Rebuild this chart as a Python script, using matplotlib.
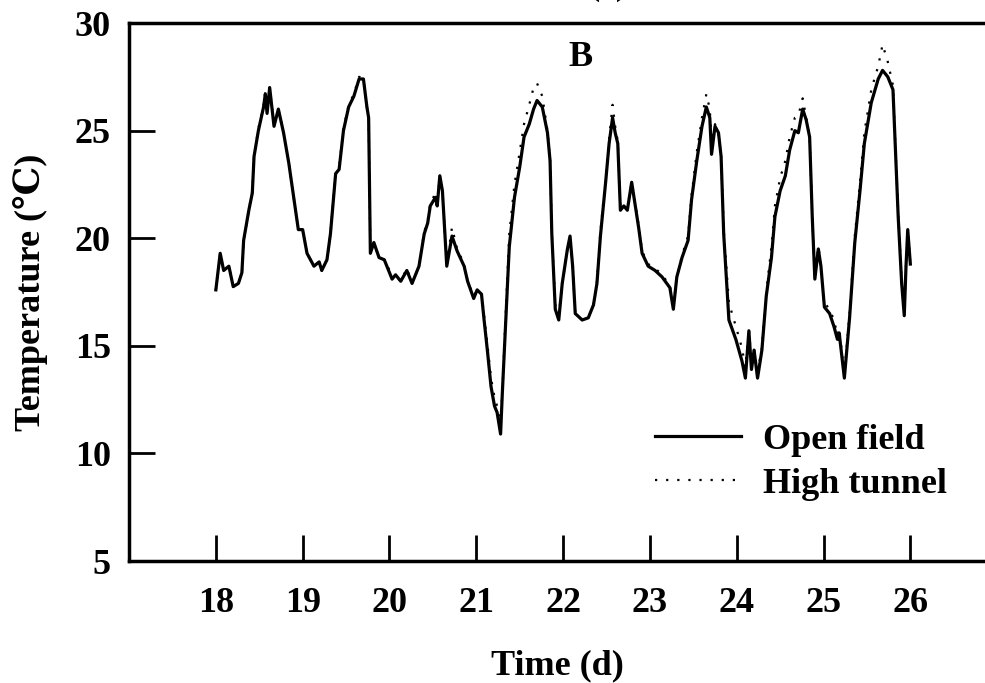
import matplotlib
matplotlib.use('Agg')
import matplotlib.pyplot as plt

plt.rcParams['font.family'] = ['Liberation Serif', 'DejaVu Serif']
plt.rcParams['font.weight'] = 'bold'

# time (d), open field and high tunnel temperature (degC)
time_d = [
    18.00, 18.05, 18.09, 18.15, 18.20, 18.26, 18.30, 18.32, 18.38, 18.42,
    18.44, 18.49, 18.55, 18.57, 18.59, 18.62, 18.67, 18.72, 18.78, 18.84,
    18.90, 18.95, 19.00, 19.05, 19.13, 19.19, 19.22, 19.28, 19.32, 19.38,
    19.42, 19.47, 19.53, 19.59, 19.65, 19.70, 19.74, 19.76, 19.78, 19.82,
    19.88, 19.94, 19.99, 20.03, 20.07, 20.13, 20.20, 20.26, 20.34, 20.40,
    20.44, 20.47, 20.53, 20.55, 20.58, 20.61, 20.66, 20.72, 20.78, 20.86,
    20.90, 20.97, 21.01, 21.06, 21.09, 21.13, 21.17, 21.21, 21.24, 21.28,
    21.30, 21.34, 21.38, 21.44, 21.50, 21.55, 21.61, 21.66, 21.70, 21.76,
    21.82, 21.85, 21.87, 21.91, 21.95, 21.99, 22.05, 22.08, 22.11, 22.14,
    22.22, 22.29, 22.35, 22.39, 22.43, 22.49, 22.53, 22.57, 22.60, 22.63,
    22.66, 22.70, 22.74, 22.79, 22.82, 22.87, 22.91, 22.98, 23.06, 23.14,
    23.23, 23.27, 23.31, 23.37, 23.44, 23.48, 23.54, 23.60, 23.65, 23.69,
    23.71, 23.75, 23.79, 23.82, 23.85, 23.91, 23.99, 24.06, 24.10, 24.14,
    24.17, 24.20, 24.24, 24.29, 24.34, 24.40, 24.44, 24.50, 24.56, 24.61,
    24.67, 24.71, 24.76, 24.80, 24.84, 24.87, 24.90, 24.94, 24.97, 25.01,
    25.07, 25.12, 25.16, 25.18, 25.24, 25.30, 25.36, 25.42, 25.47, 25.55,
    25.63, 25.68, 25.74, 25.80, 25.82, 25.86, 25.90, 25.93, 25.95, 25.97,
    26.00,
]

open_field = [
    17.6, 19.3, 18.5, 18.7, 17.75, 17.9, 18.4, 19.9, 21.3, 22.1,
    23.8, 25.0, 26.1, 26.7, 25.8, 27.0, 25.2, 26.0, 24.9, 23.5,
    21.8, 20.4, 20.4, 19.3, 18.7, 18.9, 18.5, 19.0, 20.2, 23.0,
    23.2, 25.0, 26.1, 26.6, 27.4, 27.4, 26.1, 25.6, 19.3, 19.8,
    19.1, 19.0, 18.5, 18.1, 18.3, 18.0, 18.5, 17.9, 18.7, 20.2,
    20.7, 21.5, 21.9, 21.5, 22.9, 22.2, 18.7, 20.1, 19.4, 18.7,
    18.0, 17.2, 17.6, 17.4, 16.2, 14.7, 13.1, 12.2, 11.9, 10.9,
    12.8, 16.2, 19.6, 21.9, 23.3, 24.7, 25.3, 26.0, 26.4, 26.1,
    24.9, 23.6, 20.2, 16.7, 16.2, 17.9, 19.5, 20.1, 18.7, 16.5,
    16.2, 16.3, 16.9, 17.9, 20.1, 22.6, 24.4, 25.6, 24.9, 24.4,
    21.3, 21.5, 21.3, 22.6, 21.8, 20.5, 19.3, 18.7, 18.5, 18.2,
    17.7, 16.7, 18.2, 19.1, 19.9, 21.8, 23.6, 25.2, 26.1, 25.6,
    23.9, 25.2, 24.9, 23.8, 20.2, 16.2, 15.3, 14.3, 13.5, 15.7,
    13.9, 14.8, 13.5, 14.8, 17.3, 19.1, 21.0, 22.2, 22.9, 24.1,
    25.0, 24.9, 26.0, 25.5, 24.7, 21.0, 18.1, 19.5, 18.7, 16.8,
    16.5, 15.9, 15.3, 15.6, 13.5, 16.3, 19.8, 22.2, 24.4, 26.3,
    27.4, 27.8, 27.5, 26.9, 24.9, 21.0, 17.9, 16.4, 18.7, 20.4,
    18.8,
]

high_tunnel = [
    17.6, 19.3, 18.5, 18.7, 17.8, 17.9, 18.4, 19.9, 21.3, 22.2,
    23.8, 25.1, 26.2, 26.8, 25.9, 27.0, 25.3, 26.0, 24.9, 23.5,
    21.8, 20.4, 20.4, 19.3, 18.7, 18.9, 18.5, 19.0, 20.2, 23.0,
    23.3, 25.1, 26.2, 26.7, 27.5, 27.4, 26.1, 25.6, 19.3, 19.8,
    19.1, 19.0, 18.6, 18.1, 18.3, 18.0, 18.6, 17.9, 18.7, 20.3,
    20.8, 21.6, 22.1, 21.6, 22.9, 22.2, 18.8, 20.5, 19.5, 18.8,
    18.0, 17.3, 17.6, 17.4, 16.4, 15.0, 13.5, 12.6, 12.2, 11.6,
    12.8, 16.6, 20.2, 22.5, 24.0, 25.3, 26.2, 27.0, 27.2, 26.6,
    25.0, 23.6, 20.2, 16.9, 16.4, 17.9, 19.5, 20.1, 18.7, 16.5,
    16.2, 16.3, 16.9, 18.0, 20.3, 22.8, 24.6, 26.2, 25.2, 24.5,
    21.5, 21.6, 21.4, 22.6, 21.9, 20.6, 19.4, 18.8, 18.6, 18.3,
    17.8, 16.8, 18.2, 19.2, 20.1, 22.0, 24.0, 25.6, 26.7, 26.0,
    24.5, 25.3, 24.9, 23.8, 20.4, 17.0, 15.9, 14.9, 14.0, 15.8,
    14.2, 14.8, 13.8, 14.9, 17.5, 19.6, 21.5, 22.8, 23.6, 24.7,
    25.6, 25.7, 26.5, 25.6, 24.7, 21.0, 18.3, 19.6, 18.8, 17.0,
    16.7, 16.2, 15.5, 15.8, 13.7, 16.5, 20.1, 22.6, 24.9, 26.9,
    28.0, 29.0, 28.2, 27.1, 25.0, 21.2, 18.0, 16.5, 18.7, 20.4,
    18.8,
]

x_ticks = [18, 19, 20, 21, 22, 23, 24, 25, 26]
y_ticks = [5, 10, 15, 20, 25, 30]

fig = plt.figure(figsize=(9.85, 6.83), dpi=100)
ax = fig.add_axes([0.131, 0.1786, 0.869, 0.7877])

ax.plot(time_d, open_field, color='black', lw=2.3, label='Open field')
ax.plot(time_d, high_tunnel, color='black', lw=1.6,
        linestyle=(0, (1, 4)), label='High tunnel')

ax.set_xlim(17, 26.86)
ax.set_ylim(5, 30)
ax.set_xticks(x_ticks)
ax.set_yticks(y_ticks)

for side in ['left', 'bottom', 'top']:
    ax.spines[side].set_linewidth(2.5)
ax.spines['right'].set_visible(False)

ax.tick_params(axis='both', direction='in', length=19, width=2,
               labelsize=26)
ax.tick_params(axis='x', pad=19)
ax.tick_params(axis='y', pad=13)
for lab in ax.get_xticklabels() + ax.get_yticklabels():
    lab.set_fontweight('bold')

ax.set_xlabel('Time (d)', fontsize=26, fontweight='bold')
ax.xaxis.set_label_coords(0.5, -0.165)
ax.set_ylabel('Temperature (℃)', fontsize=26, fontweight='bold')
ax.yaxis.set_label_coords(-0.095, 0.5)

ax.text(22.2, 28.4, 'B', fontsize=26, fontweight='bold',
        ha='center', va='center')

fig.text(0.617, 1.0 + 5 / 683, '(a)', fontsize=24, ha='center',
         va='baseline')

leg = ax.legend(loc='center left', bbox_to_anchor=(0.614, 0.184),
                frameon=False, fontsize=26, handlelength=2.4,
                handletextpad=0.6, labelspacing=0.3, borderpad=0,
                borderaxespad=0)
for t in leg.get_texts():
    t.set_fontweight('bold')

plt.savefig('out.png', dpi=100)
